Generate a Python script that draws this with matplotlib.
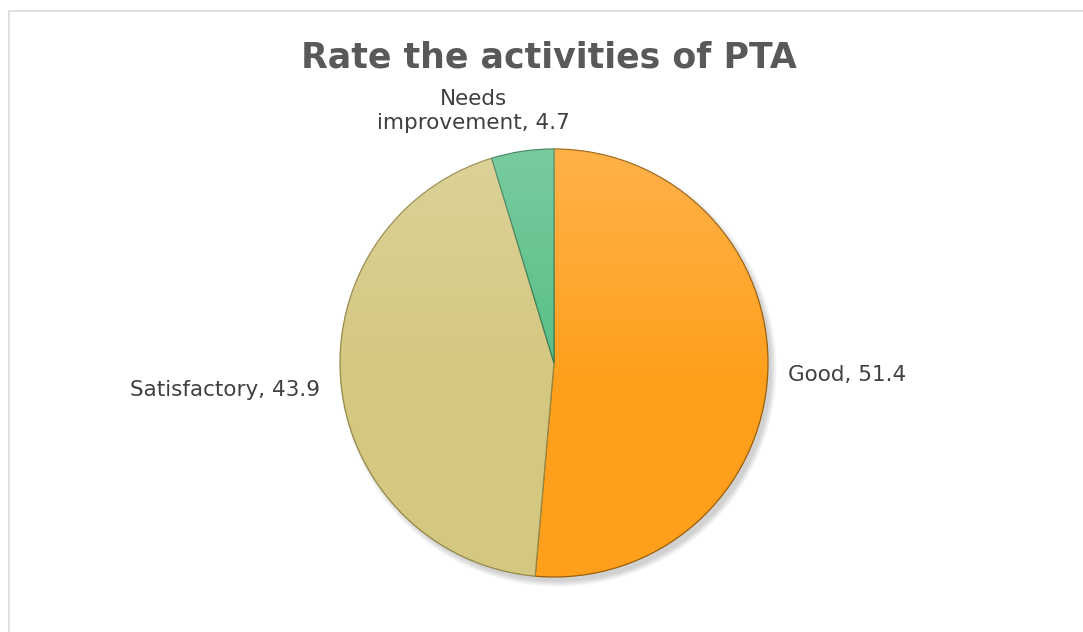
import matplotlib.pyplot as plt
import numpy as np
from matplotlib.patches import Rectangle, Circle

categories = ['Good', 'Satisfactory', 'Needs\nimprovement']
values = [51.4, 43.9, 4.7]
colors = ['#FF9F1C', '#D4C77F', '#57BE85']
edges = ['#9A5E08', '#958849', '#357D55']

fig = plt.figure(figsize=(10.83, 6.32), dpi=100)
fig.patches.append(Rectangle((9 / 1083, -0.1), 1.2, 1 - 11 / 632 + 0.1,
                             transform=fig.transFigure, fill=False,
                             edgecolor='#D9D9D9', linewidth=1.2))

ax = fig.add_axes([340 / 1083, 54 / 632, 428 / 1083, 428 / 632])

# soft drop shadow behind the pie (bottom-right)
for k in range(6):
    ax.add_patch(Circle((0.02, -0.025), 0.995 + 0.005 * k, color='black',
                        alpha=0.03, lw=0, zorder=0))

wedges, _ = ax.pie(values, colors=colors, startangle=90, counterclock=False,
                   radius=1.0, wedgeprops=dict(linewidth=0.9))
for w, ec in zip(wedges, edges):
    w.set_edgecolor(ec)
    w.set_zorder(2)

# light highlight at the top, fading downward
yy = np.linspace(1, -1, 300)[:, None] * np.ones((1, 300))
grad = np.clip((yy + 0.1) / 1.1, 0, 1)
rgba = np.zeros((300, 300, 4))
rgba[..., :3] = 1.0
rgba[..., 3] = 0.2 * grad
for w in wedges:
    im = ax.imshow(rgba, extent=(-1, 1, -1, 1), zorder=3, interpolation='bilinear')
    im.set_clip_path(w)

ax.set_xlim(-1.05, 1.05)
ax.set_ylim(-1.05, 1.05)
ax.set_aspect('equal')
ax.axis('off')
ax.set_position([(554 - 214 * 1.05) / 1083, (632 - 363 - 214 * 1.05) / 632,
                 428 * 1.05 / 1083, 428 * 1.05 / 632])

fig.text(549 / 1083, 1 - 57 / 632, 'Rate the activities of PTA', ha='center', va='center',
         fontsize=25, fontweight='bold', color='#595959')

lab_style = dict(fontsize=15.5, color='#404040')
fig.text(788 / 1083, 1 - 375 / 632, f'{categories[0]}, {values[0]}', ha='left', va='center', **lab_style)
fig.text(320 / 1083, 1 - 390 / 632, f'{categories[1]}, {values[1]}', ha='right', va='center', **lab_style)
fig.text(473 / 1083, 1 - 111 / 632, f'{categories[2]}, {values[2]}', ha='center', va='center',
         multialignment='center', linespacing=1.2, **lab_style)

fig.savefig('out.png', dpi=100)
